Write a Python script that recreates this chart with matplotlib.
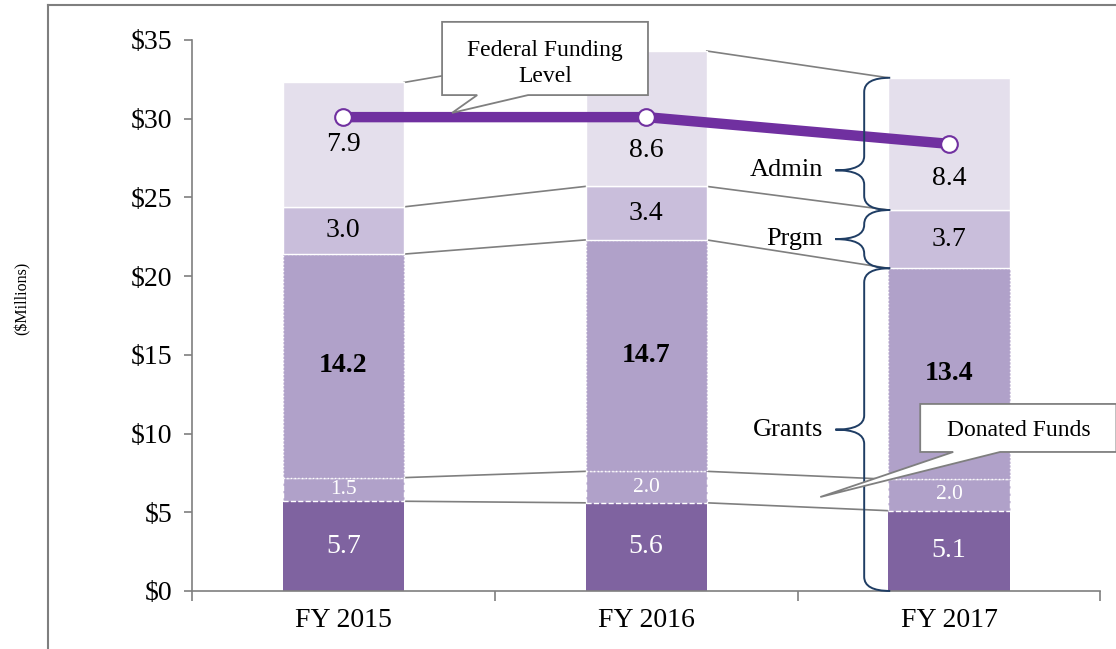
import numpy as np
import matplotlib.pyplot as plt
from matplotlib.path import Path
from matplotlib.patches import PathPatch, Polygon
from matplotlib.lines import Line2D

plt.rcParams['font.family'] = ['Liberation Serif', 'DejaVu Serif']

years = ['FY 2015', 'FY 2016', 'FY 2017']
base = np.array([5.7, 5.6, 5.1])        # grants, non-donated part
donated = np.array([1.5, 2.0, 2.0])
grants = np.array([14.2, 14.7, 13.4])
prgm = np.array([3.0, 3.4, 3.7])
admin = np.array([7.9, 8.6, 8.4])
federal = np.array([30.1, 30.1, 28.4])

c_base = '#7f63a0'
c_grant = '#b0a1c9'
c_prgm = '#c9bedb'
c_admin = '#e4dfec'
c_line = '#7030a0'
c_gray = '#7f7f7f'
c_brace = '#1f3d64'

fig = plt.figure(figsize=(11.16, 6.49), dpi=100)
ax = fig.add_axes([0.172, 0.0894, 0.814, 0.849])

x = np.arange(len(years))
w = 0.4

b1 = base
b2 = b1 + donated
b3 = b2 + grants
b4 = b3 + prgm
b5 = b4 + admin

ax.bar(x, base, w, color=c_base, edgecolor='none', zorder=2)
ax.bar(x, donated, w, bottom=b1, color=c_grant, edgecolor='white', linestyle='--', lw=1, zorder=2)
ax.bar(x, grants, w, bottom=b2, color=c_grant, edgecolor='white', linestyle=':', lw=1, zorder=2)
ax.bar(x, prgm, w, bottom=b3, color=c_prgm, edgecolor='white', lw=1, zorder=2)
ax.bar(x, admin, w, bottom=b4, color=c_admin, edgecolor='white', lw=1, zorder=2)

# connector lines between bars
for lev in [b1, b2, b3, b4, b5]:
    for i in range(len(x) - 1):
        ax.plot([x[i] + w / 2, x[i + 1] - w / 2], [lev[i], lev[i + 1]],
                color=c_gray, lw=1.2, zorder=1, clip_on=False)

# value labels
admin_shift = [0, -2.0, -2.2]
for i in range(len(x)):
    ax.text(x[i], b1[i] / 2, f'{base[i]:.1f}', ha='center', va='center',
            color='white', fontsize=20, zorder=5)
    ax.text(x[i], (b1[i] + b2[i]) / 2, f'{donated[i]:.1f}', ha='center', va='center',
            color='white', fontsize=15.5, zorder=5)
    ax.text(x[i], (b2[i] + b3[i]) / 2, f'{grants[i]:.1f}', ha='center', va='center',
            color='black', fontsize=20, fontweight='bold', zorder=5)
    ax.text(x[i], (b3[i] + b4[i]) / 2, f'{prgm[i]:.1f}', ha='center', va='center',
            color='black', fontsize=20, zorder=5)
    ax.text(x[i], (b4[i] + b5[i]) / 2 + admin_shift[i], f'{admin[i]:.1f}', ha='center',
            va='center', color='black', fontsize=20, zorder=5)

# federal funding line
ax.plot(x, federal, color=c_line, lw=7.5, marker='o', ms=12, mfc='white',
        mec=c_line, mew=1.5, zorder=6, solid_capstyle='butt')


def brace(ax, xr, xm, xt, top, bot, frac=0.5, r=0.9):
    mid = top - frac * (top - bot)
    verts = [(xr, top), (xm, top), (xm, top - r),
             (xm, mid + r),
             (xm, mid), (xt, mid),
             (xm, mid), (xm, mid - r),
             (xm, bot + r),
             (xm, bot), (xr, bot)]
    codes = [Path.MOVETO, Path.CURVE3, Path.CURVE3,
             Path.LINETO,
             Path.CURVE3, Path.CURVE3,
             Path.CURVE3, Path.CURVE3,
             Path.LINETO,
             Path.CURVE3, Path.CURVE3]
    ax.add_patch(PathPatch(Path(verts, codes), fill=False, ec=c_brace, lw=1.4,
                           zorder=7, clip_on=False))
    return mid


xr, xm, xt = 1.806, 1.72, 1.625
for top, bot, frac, name in [(b5[2], b4[2], 0.70, 'Admin'),
                             (b4[2], b3[2], 0.5, 'Prgm'),
                             (b3[2], 0, 0.5, 'Grants')]:
    mid = brace(ax, xr, xm, xt, top, bot, frac)
    ax.text(xt - 0.04, mid, name, ha='right', va='center', fontsize=19, zorder=7)

# callouts
fed_box = [(0.326, 36.15), (1.006, 36.15), (1.006, 31.5), (0.61, 31.5),
           (0.359, 30.37), (0.442, 31.5), (0.326, 31.5)]
ax.add_patch(Polygon(fed_box, closed=True, fc='white', ec=c_gray, lw=1.3,
                     zorder=8, clip_on=False))
ax.text(0.666, 33.5, 'Federal Funding\nLevel', ha='center', va='center',
        fontsize=17, linespacing=1.3, zorder=9)

don_box = [(1.905, 11.88), (2.553, 11.88), (2.553, 8.83), (2.169, 8.83),
           (1.575, 5.97), (2.014, 8.83), (1.905, 8.83)]
ax.add_patch(Polygon(don_box, closed=True, fc='white', ec=c_gray, lw=1.3,
                     zorder=8, clip_on=False))
ax.text(2.229, 10.2, 'Donated Funds', ha='center', va='center', fontsize=17, zorder=9)

ax.set_xlim(-0.5, 2.5)
ax.set_ylim(0, 35)
ax.set_yticks(np.arange(0, 36, 5))
ax.set_yticklabels([f'${v}' for v in range(0, 36, 5)])
ax.set_xticks(x)
ax.set_xticklabels(years)
ax.set_xticks([-0.5, 0.5, 1.5, 2.5], minor=True)
ax.tick_params(axis='x', which='major', length=0, labelsize=20, pad=12)
ax.tick_params(axis='x', which='minor', length=7, color=c_gray, width=1.2)
ax.tick_params(axis='y', length=6, color=c_gray, width=1.2, labelsize=20, pad=8)
for s in ['top', 'right']:
    ax.spines[s].set_visible(False)
for s in ['left', 'bottom']:
    ax.spines[s].set_color(c_gray)
    ax.spines[s].set_linewidth(1.2)

fig.text(0.02, 0.54, '($Millions)', rotation=90, ha='center', va='center', fontsize=11.5)

# outer frame
fig.add_artist(Line2D([48 / 1116, 48 / 1116], [0, 1 - 5 / 649], color=c_gray, lw=1.5))
fig.add_artist(Line2D([48 / 1116, 1], [1 - 5 / 649, 1 - 5 / 649], color=c_gray, lw=1.5))

plt.savefig('out.png', dpi=100)
